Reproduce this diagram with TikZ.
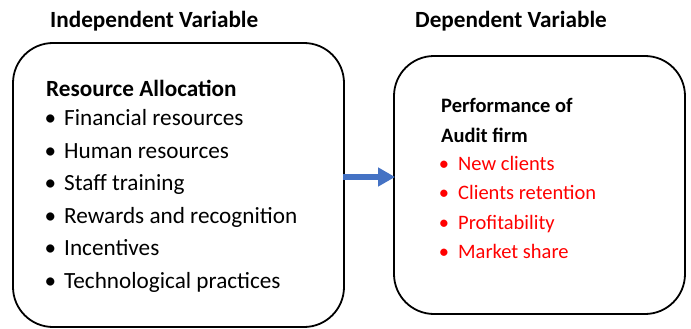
\documentclass[tikz,border=0pt]{standalone}
\usepackage{fontspec}
\setmainfont{Carlito}
\usepackage{tikz}
\usetikzlibrary{arrows.meta,positioning}

\definecolor{arrowblue}{RGB}{68,114,196}

\begin{document}
\begin{tikzpicture}[
  x=1pt, y=-1pt,
  every node/.style={inner sep=0pt, anchor=base west},
  heading/.style={font=\fontsize{23.2}{28}\selectfont\bfseries},
  panel/.style={draw, line width=1.8pt, rounded corners=40pt, anchor=center},
  litem/.style={font=\fontsize{23.2}{28}\selectfont},
  ritem/.style={font=\fontsize{20.5}{25}\selectfont, text=red},
  rtitle/.style={font=\fontsize{20.5}{25}\selectfont\bfseries},
  arrow/.style={-{Triangle[length=17pt,width=18pt]}, line width=5.5pt, arrowblue},
  ]
\useasboundingbox (0,0) rectangle (691,329);

% Boxes
\node[panel, minimum width=331pt, minimum height=284pt] (indep) at (178.5,185) {};
\node[panel, minimum width=291pt, minimum height=258pt] (dep) at (539.5,185) {};

% Headings
\node[heading] (indeptitle) at (50,28) {Independent Variable};
\node[heading] (deptitle) at (415,28) {Dependent Variable};

% Left list
\node[heading] (resalloc) at (46,96) {Resource Allocation};
\node[litem] (fin) at (64,125.5) {\llap{\textbullet\hspace{8pt}}Financial resources};
\node[litem] (hum) at (64,158) {\llap{\textbullet\hspace{8pt}}Human resources};
\node[litem] (staff) at (64,190.5) {\llap{\textbullet\hspace{8pt}}Staff training};
\node[litem] (rew) at (64,223) {\llap{\textbullet\hspace{8pt}}Rewards and recognition};
\node[litem] (inc) at (64,255.5) {\llap{\textbullet\hspace{8pt}}Incentives};
\node[litem] (tech) at (64,288) {\llap{\textbullet\hspace{8pt}}Technological practices};

% Right list
\node[rtitle] (perf) at (441,113) {Performance of};
\node[rtitle] (audit) at (441,142) {Audit firm};
\node[ritem] (newcl) at (458,170) {\llap{\textbullet\hspace{9pt}}New clients};
\node[ritem] (ret) at (458,199) {\llap{\textbullet\hspace{9pt}}Clients retention};
\node[ritem] (prof) at (458,229) {\llap{\textbullet\hspace{9pt}}Profitability};
\node[ritem] (mkt) at (458,258) {\llap{\textbullet\hspace{9pt}}Market share};

% Arrow
\draw[arrow] ([xshift=-2pt,yshift=8pt]indep.east) -- ([xshift=2pt,yshift=8pt]dep.west);

\end{tikzpicture}
\end{document}
